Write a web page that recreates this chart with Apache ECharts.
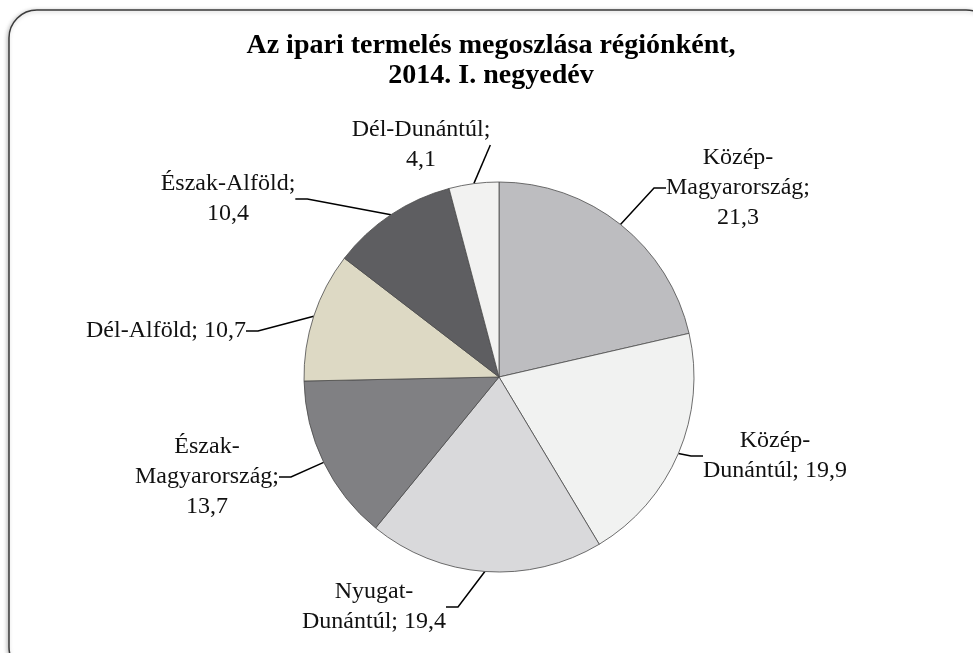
<!DOCTYPE html>
<html lang="hu">
<head>
    <meta charset="UTF-8">
    <title>Ipari termelés régiónként</title>
    <script src="https://cdn.jsdelivr.net/npm/echarts@6/dist/echarts.min.js"></script>
    <style>
        html, body { margin: 0; padding: 0; background: #fff; }
    </style>
</head>
<body>
<div id="main" style="width: 973px;height:653px;"></div>
<script type="text/javascript">
    // adatok
    var regions = ['Közép-Magyarország', 'Közép-Dunántúl', 'Nyugat-Dunántúl', 'Észak-Magyarország',
        'Dél-Alföld', 'Észak-Alföld', 'Dél-Dunántúl'];
    var values = [21.3, 19.9, 19.4, 13.7, 10.7, 10.4, 4.1];
    // címkék tördelése
    var labelNames = ['Közép-\nMagyarország;', 'Közép-\nDunántúl;', 'Nyugat-\nDunántúl;', 'Észak-\nMagyarország;',
        'Dél-Alföld;', 'Észak-Alföld;', 'Dél-Dunántúl;'];
    var labelSep = ['\n', ' ', ' ', '\n', ' ', '\n', '\n'];
    var colors = ['#bdbdc0', '#f1f2f1', '#d9d9db', '#808083', '#ddd9c4', '#5e5e61', '#f2f2f1'];
    // címkék középpontja
    var labelPos = [[738, 188], [775, 456], [374, 607], [207, 477], [166, 331], [228, 199], [421, 145]];

    var myChart = echarts.init(document.getElementById('main'));

    var data = regions.map(function (r, i) {
        return { name: r, value: values[i], itemStyle: { color: colors[i] } };
    });

    var option = {
        backgroundColor: '#fff',
        graphic: [{
            type: 'rect',
            shape: { x: 9, y: 10, width: 985, height: 665, r: 28 },
            style: { fill: '#fff', stroke: '#3a3a3a', lineWidth: 1.5,
                shadowBlur: 4, shadowColor: 'rgba(0,0,0,0.25)', shadowOffsetX: -1, shadowOffsetY: 1 },
            z: -10
        }],
        title: {
            text: 'Az ipari termelés megoszlása régiónként,\n2014. I. negyedév',
            left: 486,
            top: 26,
            textAlign: 'center',
            textStyle: {
                fontFamily: 'Liberation Serif',
                fontWeight: 'bold',
                fontSize: 28,
                lineHeight: 30,
                color: '#000'
            }
        },
        series: [{
            type: 'pie',
            center: [499, 377],
            radius: 195,
            startAngle: 90,
            clockwise: true,
            animation: false,
            data: data,
            itemStyle: { borderColor: '#4a4a4a', borderWidth: 0.8 },
            label: {
                show: true,
                position: 'outside',
                fontFamily: 'Liberation Serif',
                fontSize: 24,
                lineHeight: 30,
                color: '#111',
                align: 'center',
                formatter: function (p) {
                    return labelNames[p.dataIndex] + labelSep[p.dataIndex] + p.value.toFixed(1).replace('.', ',');
                }
            },
            labelLine: {
                show: true,
                length: 15,
                length2: 12,
                lineStyle: { color: '#000', width: 1.5 }
            },
            labelLayout: function (params) {
                var p = labelPos[params.dataIndex];
                return { x: p[0], y: p[1], align: 'center', verticalAlign: 'middle' };
            }
        }]
    };

    myChart.setOption(option);
</script>
</body>
</html>
